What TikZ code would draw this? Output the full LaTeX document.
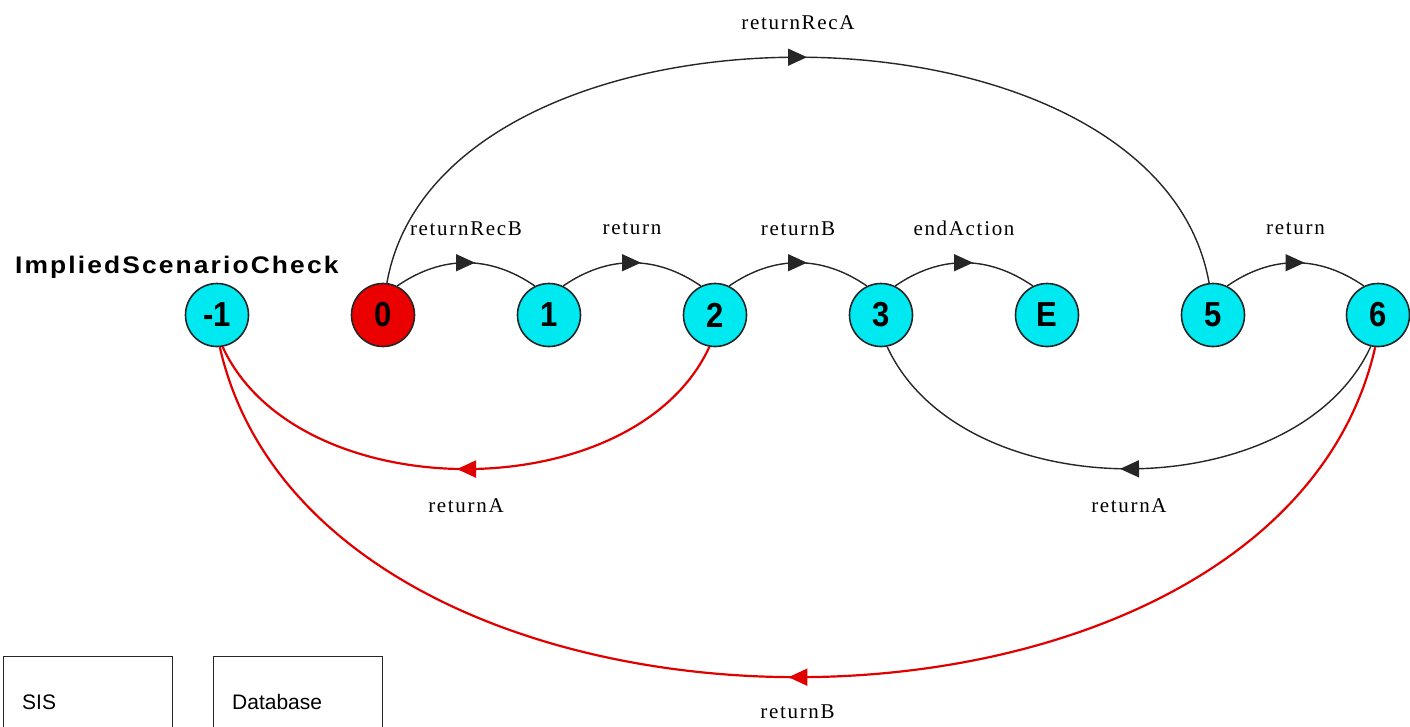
\documentclass[tikz,border=0pt]{standalone}
\usepackage{fontspec}
\setmainfont{Liberation Serif}
\newfontfamily\statefont{Liberation Sans}
\newfontfamily\titlefont{Liberation Sans}[LetterSpace=8]
\newfontfamily\edgefont{Liberation Serif}[LetterSpace=8]
\newfontfamily\boxfont{Liberation Sans}
\usetikzlibrary{arrows.meta,decorations.markings}

\definecolor{statecyan}{RGB}{0,232,240}
\definecolor{statered}{RGB}{235,0,0}
\definecolor{edgered}{RGB}{225,0,0}

\newcommand{\statelabel}[1]{\scalebox{1}[1.12]{#1}}

\tikzset{
  state/.style={circle, draw=black!85, line width=1.6pt, minimum size=63pt,
    inner sep=0pt, fill=statecyan,
    font=\statefont\bfseries\fontsize{31}{31}\selectfont},
  startstate/.style={state, fill=statered},
  trans/.style={line width=1.4pt, draw=black!85, postaction={decorate},
    decoration={markings, mark=at position 0.5 with
      {\arrow[xshift=9pt]{Triangle[length=19pt,width=17pt]}}}},
  failtrans/.style={trans, draw=edgered, line width=2.2pt},
  lbl/.style={font=\edgefont\fontsize{21}{21}\selectfont, inner sep=0pt},
  compbox/.style={draw=black!85, line width=1.4pt, anchor=north west,
    minimum width=169pt, minimum height=120pt, inner sep=0pt},
  boxtext/.style={font=\boxfont\fontsize{21}{21}\selectfont, anchor=west, inner sep=0pt}
}

\begin{document}
\begin{tikzpicture}[x=1pt,y=-1pt]
\useasboundingbox (0,0) rectangle (1410,726);
\clip (0,0) rectangle (1410,726);

% title of the process
\node[anchor=base west, inner sep=0pt,
      font=\titlefont\bfseries\fontsize{24}{24}\selectfont] (title) at (15,273)
      {\scalebox{1.1}[1]{ImpliedScenarioCheck}};

% states
\node[state] (m1) at (217,315) {\statelabel{-1}};
\node[startstate] (s0) at (383,315) {\statelabel{0}};
\node[state] (s1) at (549,315) {\statelabel{1}};
\node[state] (s2) at (715,315) {\statelabel{2}};
\node[state] (s3) at (881,315) {\statelabel{3}};
\node[state] (sE) at (1047,315) {\statelabel{E}};
\node[state] (s5) at (1213,315) {\statelabel{5}};
\node[state] (s6) at (1378,315) {\statelabel{6}};

% short transitions between neighbours
\draw[trans] (s0.64) .. controls +(45,-31) and +(-45,-31) .. (s1.116)
  node[lbl,pos=.5,yshift=34pt] {returnRecB};
\draw[trans] (s1.64) .. controls +(45,-31) and +(-45,-31) .. (s2.116)
  node[lbl,pos=.5,yshift=34pt] {return};
\draw[trans] (s2.64) .. controls +(45,-31) and +(-45,-31) .. (s3.116)
  node[lbl,pos=.5,yshift=34pt] {returnB};
\draw[trans] (s3.64) .. controls +(45,-31) and +(-45,-31) .. (sE.116)
  node[lbl,pos=.5,yshift=34pt] {endAction};
\draw[trans] (s5.64) .. controls +(45,-31) and +(-45,-31) .. (s6.116)
  node[lbl,pos=.5,yshift=34pt] {return};

% long transition over the top
\draw[trans] (s0.83) .. controls +(53,-301) and +(-53,-301) .. (s5.97)
  node[lbl,pos=.5,yshift=35pt] {returnRecA};

% transitions underneath
\draw[trans] (s6.257) .. controls +(-75,163) and +(75,163) .. (s3.281)
  node[lbl,pos=.5,yshift=-37pt] {returnA};
\draw[failtrans] (s2.260) .. controls +(-75,163) and +(75,163) .. (m1.280)
  node[lbl,pos=.5,yshift=-37pt] {returnA};
\draw[failtrans] (s6.265) .. controls +(-100,440) and +(100,440) .. (m1.275)
  node[lbl,pos=.5,yshift=-35pt] {returnB};

% components
\node[compbox] (sis) at (3,656) {};
\node[boxtext] (sislbl) at ([xshift=19pt,yshift=-46pt]sis.north west) {SIS};
\node[compbox] (db) at (213,656) {};
\node[boxtext] (dblbl) at ([xshift=19pt,yshift=-46pt]db.north west) {Database};
\end{tikzpicture}
\end{document}
